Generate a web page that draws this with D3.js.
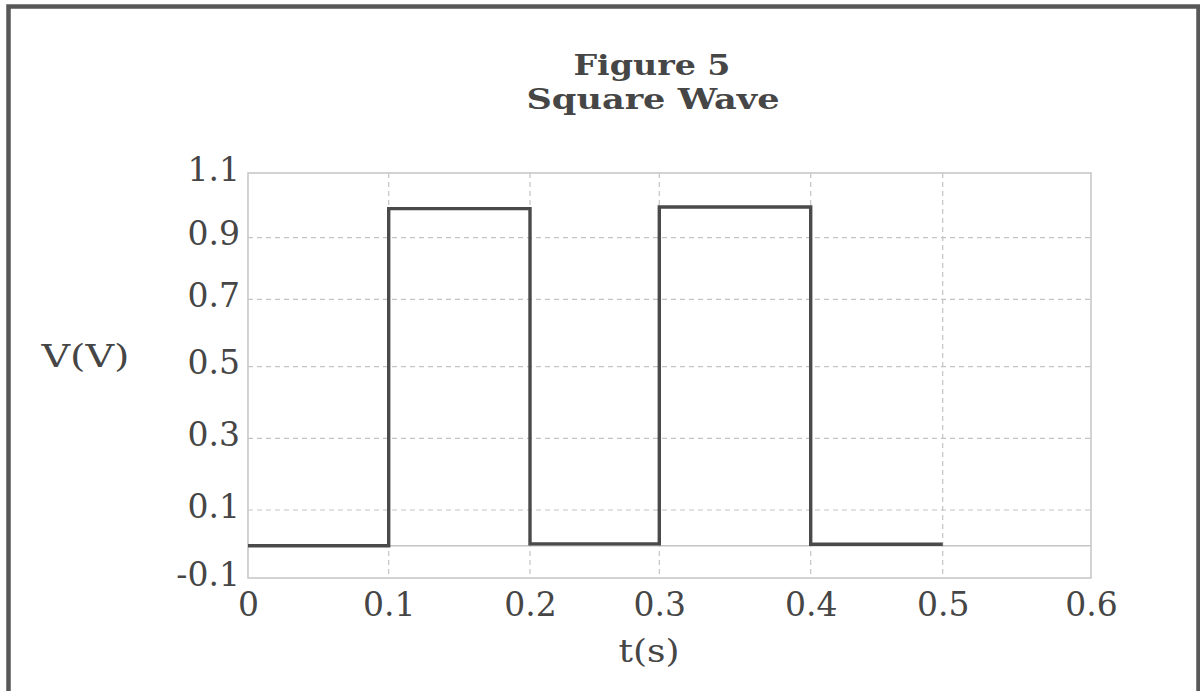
<!DOCTYPE html>
<html>
<head>
<meta charset="utf-8">
<script src="https://cdn.jsdelivr.net/npm/d3@7"></script>
<style>
  body { margin: 0; background: #fff; }
  svg { display: block; }
</style>
</head>
<body>
<script>
// values
const xTicks = [0, 0.1, 0.2, 0.3, 0.4, 0.5, 0.6];
const yTicks = [-0.1, 0.1, 0.3, 0.5, 0.7, 0.9, 1.1];
const xGrid = [0.1, 0.2, 0.3, 0.4, 0.5];
const yGrid = [0.1, 0.3, 0.5, 0.7, 0.9];
const times = [0, 0.1, 0.2, 0.3, 0.4, 0.5];
const volts = [0, 0.99, 0.005, 0.995, 0.004, 0.004];

const W = 1200, H = 691;
const font = "'DejaVu Serif', serif";
const ink = "#464646";
const gridColor = "#c4c4c4";

const svg = d3.select("body")
  .append("svg")
  .attr("width", W)
  .attr("height", H);

// the source scan is a bit uneven, so the scales are calibrated per tick
const x = d3.scaleLinear()
  .domain(xTicks)
  .range([248, 388.7, 530, 659.3, 810.7, 942.7, 1091]);

const y = d3.scaleLinear()
  .domain([-0.1, 0, 0.1, 0.3, 0.5, 0.7, 0.9, 1.1])
  .range([578, 545.7, 510, 438.3, 366.7, 299.3, 237.7, 173]);

// outer frame
svg.append("rect")
  .attr("x", 8.5)
  .attr("y", 6.5)
  .attr("width", 1190)
  .attr("height", 720)
  .attr("fill", "none")
  .attr("stroke", "#585858")
  .attr("stroke-width", 4.5);

// title
const title = svg.append("g")
  .attr("font-family", font)
  .attr("font-weight", "bold")
  .attr("font-size", 27)
  .attr("fill", ink)
  .attr("text-anchor", "middle");

title.append("text")
  .attr("x", 652)
  .attr("y", 75)
  .attr("textLength", 157)
  .attr("lengthAdjust", "spacingAndGlyphs")
  .text("Figure 5");

title.append("text")
  .attr("x", 653)
  .attr("y", 109)
  .attr("textLength", 253)
  .attr("lengthAdjust", "spacingAndGlyphs")
  .text("Square Wave");

// grid
svg.append("g")
  .selectAll("line")
  .data(yGrid)
  .join("line")
  .attr("x1", x(0))
  .attr("x2", x(0.6))
  .attr("y1", d => y(d))
  .attr("y2", d => y(d))
  .attr("stroke", gridColor)
  .attr("stroke-width", 1.2)
  .attr("stroke-dasharray", "5,4");

svg.append("g")
  .selectAll("line")
  .data(xGrid)
  .join("line")
  .attr("x1", d => x(d))
  .attr("x2", d => x(d))
  .attr("y1", y(1.1))
  .attr("y2", y(-0.1))
  .attr("stroke", gridColor)
  .attr("stroke-width", 1.2)
  .attr("stroke-dasharray", "5,4");

// zero line
svg.append("line")
  .attr("x1", x(0))
  .attr("x2", x(0.6))
  .attr("y1", y(0))
  .attr("y2", y(0))
  .attr("stroke", gridColor)
  .attr("stroke-width", 1.5);

// plot border
svg.append("rect")
  .attr("x", x(0))
  .attr("y", y(1.1))
  .attr("width", x(0.6) - x(0))
  .attr("height", y(-0.1) - y(1.1))
  .attr("fill", "none")
  .attr("stroke", "#c8c8c8")
  .attr("stroke-width", 1.6);

// axes (labels only)
const fmt = d => String(d);

const yAxis = svg.append("g")
  .attr("transform", `translate(${x(0)},0)`)
  .call(d3.axisLeft(y).tickValues(yTicks).tickSize(0).tickPadding(8).tickFormat(fmt));

const xAxis = svg.append("g")
  .attr("transform", `translate(0,${y(-0.1)})`)
  .call(d3.axisBottom(x).tickValues(xTicks).tickSize(0).tickPadding(15).tickFormat(fmt));

[yAxis, xAxis].forEach(g => {
  g.select(".domain").remove();
  g.selectAll("text")
    .attr("font-family", font)
    .attr("font-size", 33)
    .attr("fill", ink);
});
yAxis.selectAll("text").attr("dy", "0.22em");

// axis titles
svg.append("text")
  .attr("x", 85.5)
  .attr("y", 367)
  .attr("text-anchor", "middle")
  .attr("font-family", font)
  .attr("font-size", 31)
  .attr("fill", ink)
  .attr("textLength", 88)
  .attr("lengthAdjust", "spacingAndGlyphs")
  .text("V(V)");

svg.append("text")
  .attr("x", 649)
  .attr("y", 662)
  .attr("text-anchor", "middle")
  .attr("font-family", font)
  .attr("font-size", 31)
  .attr("fill", ink)
  .attr("textLength", 61)
  .attr("lengthAdjust", "spacingAndGlyphs")
  .text("t(s)");

// the wave
const points = times.map((t, i) => ({ t, v: volts[i] }));

const line = d3.line()
  .x(d => x(d.t))
  .y(d => y(d.v))
  .curve(d3.curveStepAfter);

svg.append("path")
  .datum(points)
  .attr("d", line)
  .attr("fill", "none")
  .attr("stroke", "#4a4a4a")
  .attr("stroke-width", 3.4)
  .attr("stroke-linejoin", "miter");
</script>
</body>
</html>
